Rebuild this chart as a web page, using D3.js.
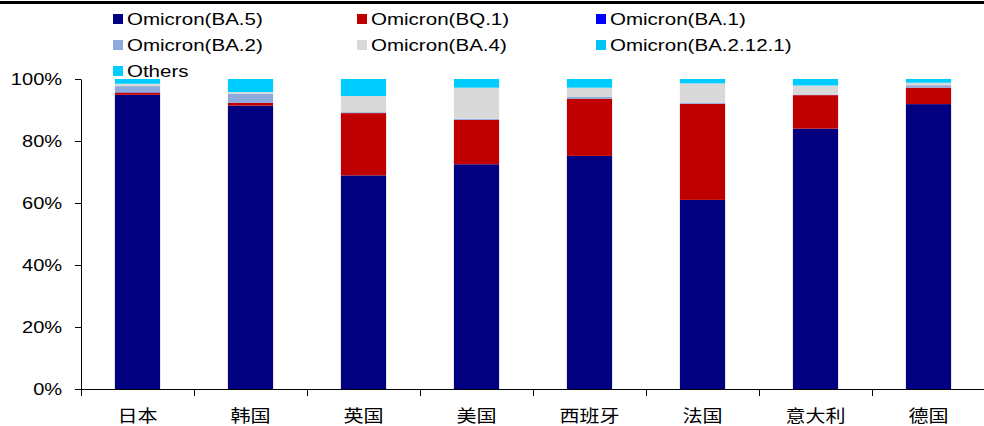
<!DOCTYPE html>
<html>
<head>
<meta charset="utf-8">
<script src="https://cdn.jsdelivr.net/npm/d3@7"></script>
<style>
  html, body { margin: 0; padding: 0; background: #fff; }
  svg { display: block; }
</style>
</head>
<body>
<svg id="chart" width="984" height="426"></svg>
<script>
// Variant shares by country (percent), stacked bottom to top in series order
const countries = ["日本", "韩国", "英国", "美国", "西班牙", "法国", "意大利", "德国"];
const seriesNames = ["Omicron(BA.5)", "Omicron(BQ.1)", "Omicron(BA.1)", "Omicron(BA.2)",
                     "Omicron(BA.4)", "Omicron(BA.2.12.1)", "Others"];
const ba5      = [94.9, 91.4, 68.9, 72.5, 75.2, 61.0, 84.0, 91.9];
const bq1      = [0.7,  0.9,  20.1, 14.3, 18.4, 31.0, 10.8, 5.3];
const ba1      = [0.1,  0.0,  0.0,  0.0,  0.0,  0.0,  0.0,  0.0];
const ba2      = [2.0,  3.0,  0.3,  0.4,  0.6,  0.4,  0.2,  0.8];
const ba4      = [0.7,  0.5,  5.2,  10.0, 3.0,  6.2,  2.9,  0.8];
const ba2121   = [0.1,  0.0,  0.0,  0.0,  0.0,  0.0,  0.0,  0.0];
const others   = [1.5,  4.2,  5.5,  2.8,  2.8,  1.4,  2.1,  1.2];
const yTicks   = [0, 0.2, 0.4, 0.6, 0.8, 1.0];

const colors = ["#000080", "#C00000", "#0000FF", "#8EA9DB", "#D9D9D9", "#00C4F8", "#00CCFF"];
const seriesValues = [ba5, bq1, ba1, ba2, ba4, ba2121, others];

const rows = countries.map((c, i) => {
  const r = { country: c };
  seriesNames.forEach((s, k) => { r[s] = seriesValues[k][i] / 100; });
  return r;
});

const svg = d3.select("#chart");
const latin = "'Liberation Sans', Arial, sans-serif";
const cjk = "'Noto Sans CJK SC', sans-serif";
const stretch = "scale(1.18,1)"; // slightly widened lettering
const legendStretch = "scale(1.21,1)";

// Heavy rule along the top edge
svg.append("rect").attr("x", 0).attr("y", 1).attr("width", 984).attr("height", 3).attr("fill", "#000");

const x = d3.scaleBand().domain(countries).range([81, 985]).paddingInner(0.6).paddingOuter(0.3);
const y = d3.scaleLinear().domain([0, 1]).range([389, 79]);

const stack = d3.stack().keys(seriesNames);
const layers = stack(rows);

svg.append("g").selectAll("g")
  .data(layers)
  .join("g")
  .attr("fill", (d, i) => colors[i])
  .selectAll("rect")
  .data(d => d)
  .join("rect")
  .attr("x", d => x(d.data.country))
  .attr("width", x.bandwidth())
  .attr("y", d => y(d[1]))
  .attr("height", d => Math.max(0, y(d[0]) - y(d[1])));

// Y axis
const yAxis = d3.axisLeft(y).tickValues(yTicks).tickFormat(d3.format(".0%")).tickSize(6).tickSizeOuter(0).tickPadding(10);
const gy = svg.append("g").attr("transform", "translate(81,0)").call(yAxis);
gy.select(".domain").attr("stroke", "#000").attr("stroke-width", 1);
gy.selectAll(".tick line").attr("stroke", "#000");
gy.selectAll(".tick text").attr("font-family", latin).attr("font-size", 17).attr("fill", "#000")
  .attr("transform", stretch);

// X axis: labels centred in bands, tick marks on band boundaries
const xAxis = d3.axisBottom(x).tickSize(0).tickPadding(21);
const gx = svg.append("g").attr("transform", "translate(0,389)").call(xAxis);
gx.select(".domain").attr("stroke", "#000").attr("stroke-width", 1);
gx.selectAll(".tick text").attr("font-family", cjk).attr("font-size", 17).attr("fill", "#000")
  .attr("transform", stretch);
const step = x.step();
const x0 = x.range()[0];
gx.append("g").selectAll("line")
  .data(d3.range(countries.length + 1))
  .join("line")
  .attr("x1", i => x0 + i * step + 0.5)
  .attr("x2", i => x0 + i * step + 0.5)
  .attr("y1", 0).attr("y2", 7)
  .attr("stroke", "#000");

// Legend, three per row
const legend = svg.append("g");
const colX = [113, 357, 596];
const rowY = [19, 45, 71];
seriesNames.forEach((s, i) => {
  const g = legend.append("g").attr("transform", `translate(${colX[i % 3]},${rowY[Math.floor(i / 3)]})`);
  g.append("rect").attr("x", 0).attr("y", -5).attr("width", 10).attr("height", 10).attr("fill", colors[i]);
  g.append("text").attr("x", 11.5).attr("y", 0).attr("dy", "0.35em")
    .attr("font-family", latin).attr("font-size", 17).attr("fill", "#000")
    .attr("transform", legendStretch).text(s);
});
</script>
</body>
</html>
